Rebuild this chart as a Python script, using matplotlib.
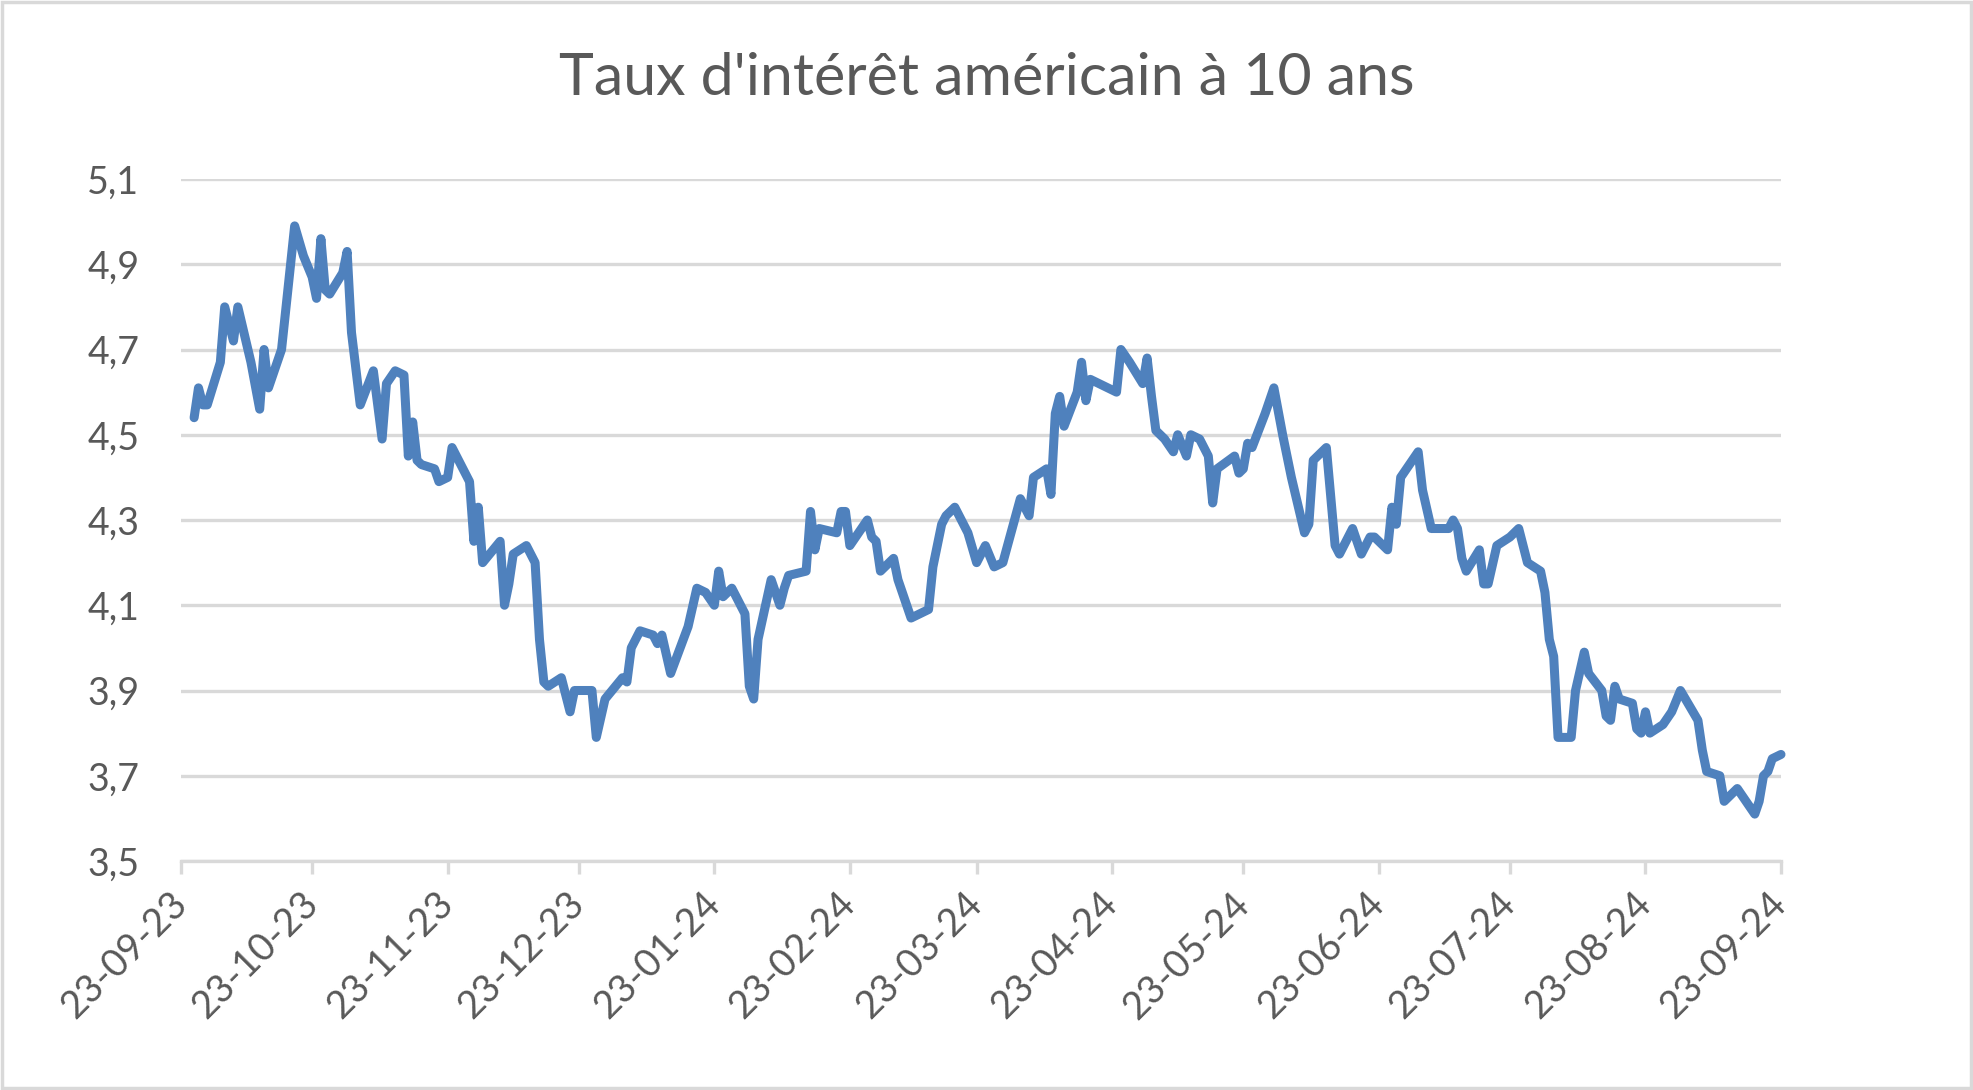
import numpy as np
import pandas as pd
import matplotlib
matplotlib.use("Agg")
from matplotlib import pyplot as plt
from matplotlib import dates as mdates
from matplotlib.ticker import FuncFormatter
from matplotlib.patches import Rectangle

# jours écoulés depuis le 23-09-2023 et taux à 10 ans (%)
debut = pd.Timestamp("2023-09-23")
jours = [3, 4, 5, 6, 9, 10, 12, 13, 16, 18, 19, 20, 23, 26, 28, 30, 31, 32, 33, 34,
         37, 38, 39, 41, 44, 46, 47, 49, 51, 52, 53, 54, 55, 58, 59, 61, 62, 66, 67, 68,
         69, 73, 74, 75, 76, 79, 81, 82, 83, 84, 87, 89, 90, 94, 95, 97, 101, 102, 103, 105,
         108, 109, 110, 112, 116, 118, 120, 122, 123, 124, 126, 129, 130, 131, 132, 135, 137, 138, 139, 143,
         144, 145, 146, 150, 151, 152, 153, 157, 158, 159, 160, 163, 164, 166, 167, 171, 172, 174, 175, 177,
         179, 180, 182, 184, 186, 188, 192, 194, 195, 198, 199, 200, 201, 202, 205, 206, 207, 208, 210, 214,
         215, 217, 220, 221, 222, 223, 225, 227, 228, 230, 231, 233, 235, 236, 237, 241, 242, 243, 244, 245,
         248, 250, 252, 254, 257, 258, 259, 262, 264, 265, 268, 270, 272, 273, 276, 277, 278, 279, 283, 284,
         286, 290, 291, 292, 293, 294, 297, 298, 299, 301, 304, 306, 307, 308, 311, 312, 313, 314, 315, 318,
         319, 321, 322, 325, 326, 327, 328, 329, 332, 333, 334, 335, 336, 339, 341, 343, 347, 348, 349, 352,
         353, 356, 360, 361, 362, 363, 364, 366]
taux = [4.54, 4.61, 4.57, 4.57, 4.67, 4.80, 4.72, 4.80, 4.67, 4.56, 4.70, 4.61, 4.70, 4.99, 4.92, 4.87, 4.82, 4.96, 4.84, 4.83,
        4.88, 4.93, 4.74, 4.57, 4.65, 4.49, 4.62, 4.65, 4.64, 4.45, 4.53, 4.44, 4.43, 4.42, 4.39, 4.40, 4.47, 4.39, 4.25, 4.33,
        4.20, 4.25, 4.10, 4.15, 4.22, 4.24, 4.20, 4.02, 3.92, 3.91, 3.93, 3.85, 3.90, 3.90, 3.79, 3.88, 3.93, 3.92, 4.00, 4.04,
        4.03, 4.01, 4.03, 3.94, 4.05, 4.14, 4.13, 4.10, 4.18, 4.12, 4.14, 4.08, 3.91, 3.88, 4.02, 4.16, 4.10, 4.14, 4.17, 4.18,
        4.32, 4.23, 4.28, 4.27, 4.32, 4.32, 4.24, 4.30, 4.26, 4.25, 4.18, 4.21, 4.16, 4.10, 4.07, 4.09, 4.19, 4.29, 4.31, 4.33,
        4.29, 4.27, 4.20, 4.24, 4.19, 4.20, 4.35, 4.31, 4.40, 4.42, 4.36, 4.55, 4.59, 4.52, 4.60, 4.67, 4.58, 4.63, 4.62, 4.60,
        4.70, 4.67, 4.62, 4.68, 4.59, 4.51, 4.49, 4.46, 4.50, 4.45, 4.50, 4.49, 4.45, 4.34, 4.42, 4.45, 4.41, 4.42, 4.48, 4.47,
        4.55, 4.61, 4.50, 4.40, 4.27, 4.29, 4.44, 4.47, 4.24, 4.22, 4.28, 4.22, 4.26, 4.26, 4.23, 4.33, 4.29, 4.40, 4.46, 4.37,
        4.28, 4.28, 4.30, 4.28, 4.21, 4.18, 4.23, 4.15, 4.15, 4.24, 4.26, 4.28, 4.24, 4.20, 4.18, 4.13, 4.02, 3.98, 3.79, 3.79,
        3.90, 3.99, 3.94, 3.90, 3.84, 3.83, 3.91, 3.88, 3.87, 3.81, 3.80, 3.85, 3.80, 3.82, 3.85, 3.90, 3.83, 3.76, 3.71, 3.70,
        3.64, 3.67, 3.61, 3.64, 3.70, 3.71, 3.74, 3.75]
titre = "Taux d'intérêt américain à 10 ans"

dates = debut + pd.to_timedelta(jours, unit="D")
fin = pd.Timestamp("2024-09-23")

gris = "#d9d9d9"
texte = "#595959"
bleu = "#4f81bd"
plt.rcParams["font.family"] = ["Lato", "DejaVu Sans"]

fig = plt.figure(figsize=(19.73, 10.9), dpi=100)
ax = fig.add_axes([181 / 1973, 229 / 1090, 1600 / 1973, 682 / 1090])

ax.plot(dates, taux, color=bleu, lw=6.5, solid_joinstyle="round",
        solid_capstyle="round", clip_on=False, zorder=3)

ax.set_xlim(debut, fin)
ax.set_ylim(3.5, 5.1)
ax.set_yticks(np.arange(3.5, 5.11, 0.2))
ax.yaxis.set_major_formatter(FuncFormatter(lambda v, p: f"{v:.1f}".replace(".", ",")))
ax.grid(axis="y", color=gris, lw=2.4)
ax.set_axisbelow(True)

# un repère le 23 de chaque mois
ticks = pd.date_range("2023-09-01", "2024-09-01", freq="MS") + pd.Timedelta(days=22)
ax.set_xticks(ticks)
ax.xaxis.set_major_formatter(mdates.DateFormatter("%d-%m-%y"))

for s in ["top", "right", "left"]:
    ax.spines[s].set_visible(False)
ax.spines["bottom"].set_color(gris)
ax.spines["bottom"].set_linewidth(2.4)

ax.tick_params(axis="y", length=0, pad=30, labelsize=27, labelcolor=texte)
ax.tick_params(axis="x", length=9, width=2.4, color=gris, pad=18,
               labelsize=27.5, labelcolor=texte)
for lab in ax.get_xticklabels():
    lab.set_rotation(45)
    lab.set_ha("right")
    lab.set_va("center")
    lab.set_rotation_mode("anchor")

fig.text(0.5, 0.928, titre, ha="center", va="center", fontsize=42.5, color=texte)

fig.patches.append(Rectangle((0.001, 0.0015), 0.998, 0.997, transform=fig.transFigure,
                             fill=False, edgecolor=gris, lw=2.5))

fig.savefig("out.png", dpi=100, facecolor="white")
